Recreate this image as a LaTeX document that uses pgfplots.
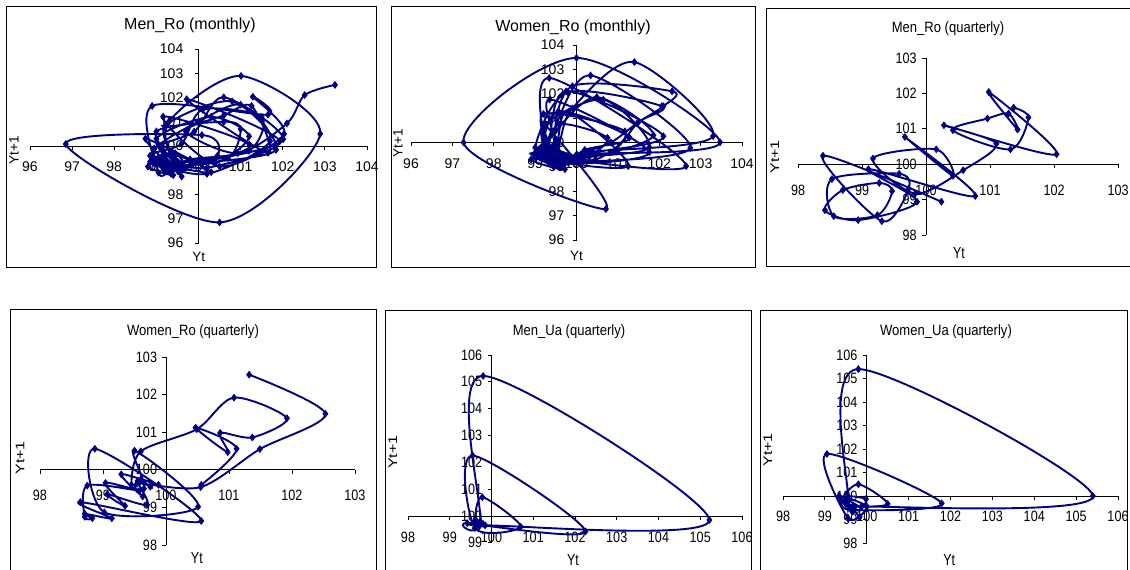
\documentclass[border=0pt]{standalone}
\usepackage{pgfplots}
\pgfplotsset{compat=1.18}
\usepackage{fontspec}
\setmainfont{Liberation Sans}
\definecolor{navy}{RGB}{0,0,128}
\tikzset{
  axl/.style={black, line width=0.9pt},
  tkA/.style={font=\fontsize{14}{16}\selectfont, inner sep=0pt},
  tkB/.style={font=\fontsize{15}{17}\selectfont, inner sep=0pt, xscale=0.84},
  ttlA/.style={font=\fontsize{16}{19}\selectfont, inner sep=0pt},
  ttlB/.style={font=\fontsize{15}{17}\selectfont, inner sep=0pt, xscale=0.87},
  labA/.style={font=\fontsize{13.5}{15}\selectfont, inner sep=0pt},
  labB/.style={font=\fontsize{16}{18}\selectfont, inner sep=0pt, xscale=0.78},
  frm/.style={black, line width=1pt},
}
\pgfplotsset{
  phase/.style={scale only axis, anchor=south west, axis lines=none, clip=false},
  series/.style={navy, line width=1.9pt, smooth, mark=diamond*, mark size=3.3pt, mark options={fill=navy, solid, line width=0.8pt}},
}
% #1 xmin #2 xmax #3 ymin #4 ymax #5 tick style #6 x-label offset #7 y-label gap
\newcommand{\phaseaxes}[7]{%
  \draw[axl] (axis cs:#1,100) -- (axis cs:#2,100);
  \draw[axl] (axis cs:100,#3) -- (axis cs:100,#4);
  \pgfplotsinvokeforeach{#1,...,#2}{%
    \draw[axl] (axis cs:##1,100) -- ++(0pt,-4pt);
    \node[#5, anchor=north, yshift=-#6] at (axis cs:##1,100) {##1};}
  \pgfplotsinvokeforeach{#3,...,#4}{%
    \draw[axl] (axis cs:100,##1) -- ++(-4pt,0pt);
    \node[#5, anchor=east, xshift=-#7] at (axis cs:100,##1) {##1};}
}
\begin{document}
\begin{tikzpicture}
\path[use as bounding box] (0pt,0pt) rectangle (1130pt,570pt);
\fill[white] (0pt,0pt) rectangle (1130pt,570pt);
% frames
\draw[frm] (6.7pt,302pt) rectangle (376.7pt,563.3pt);
\draw[frm] (391.7pt,302pt) rectangle (755.7pt,563.3pt);
\draw[frm] (766pt,303.3pt) rectangle (1132pt,561.7pt);
\draw[frm] (10pt,-5pt) rectangle (376.7pt,260pt);
\draw[frm] (385pt,-5pt) rectangle (751.7pt,259pt);
\draw[frm] (760pt,-5pt) rectangle (1127.7pt,259pt);
% titles
\node[ttlA] at (190pt,545pt) {Men\_Ro (monthly)};
\node[ttlA] at (573pt,543pt) {Women\_Ro (monthly)};
\node[ttlB] at (948pt,541pt) {Men\_Ro (quarterly)};
\node[ttlB] at (193pt,238pt) {Women\_Ro (quarterly)};
\node[ttlB] at (569pt,238pt) {Men\_Ua (quarterly)};
\node[ttlB] at (946pt,238pt) {Women\_Ua (quarterly)};

% ---------- Panel 1: Men_Ro (monthly)
\begin{axis}[phase, at={(30pt,327pt)}, width=337pt, height=194pt,
  xmin=96, xmax=104, ymin=96, ymax=104]
\phaseaxes{96}{104}{96}{104}{tkA}{16pt}{15pt}
\node[labA] at (axis description cs:0.501,-0.072) {Yt};
\node[labA, rotate=90] at (axis description cs:-0.0475,0.479) {Yt+1};
\addplot[series] coordinates {
(103.24,102.52) (102.52,102.1) (102.1,100.93) (100.93,99.7) (99.7,100.6) (100.6,101.26) (101.26,101.65) (101.65,99.72) (99.72,101.93) (101.93,100.2) (100.2,99.1) (99.1,99.4) (99.4,98.8) (98.8,99.15) (99.15,99.6) (99.6,98.74) (98.74,100.3) (100.3,98.92) (98.92,99.3) (99.3,99.05) (99.05,98.9) (98.9,101.65) (101.65,101.29) (101.29,102.03) (102.03,100.5) (100.5,99.16) (99.16,101.21) (101.21,100.05) (100.05,99.3) (99.3,98.95) (98.95,99.5) (99.5,99.2) (99.2,100.8) (100.8,101.84) (101.84,99.84) (99.84,99.25) (99.25,99.0) (99.0,99.45) (99.45,99.7) (99.7,99.1) (99.1,100.0) (100.0,101.0) (101.0,101.7) (101.7,100.2) (100.2,98.85) (98.85,99.35) (99.35,99.6) (99.6,99.2) (99.2,98.95) (98.95,99.9) (99.9,100.6) (100.6,102.01) (102.01,100.28) (100.28,99.4) (99.4,99.1) (99.1,99.5) (99.5,99.0) (99.0,100.3) (100.3,101.2) (101.2,100.4) (100.4,99.3) (99.3,99.65) (99.65,99.05) (99.05,99.35) (99.35,98.85) (98.85,99.6) (99.6,100.1) (100.1,101.5) (101.5,101.2) (101.2,99.8) (99.8,99.45) (99.45,99.15) (99.15,99.55) (99.55,99.0) (99.0,100.6) (100.6,101.0) (101.0,100.7) (100.7,99.5) (99.5,99.3) (99.3,101.01) (101.01,102.89) (102.89,100.5) (100.5,96.85) (96.85,100.08) (100.08,100.45) (100.45,99.6) (99.6,99.3) (99.3,99.05) (99.05,99.5) (99.5,99.2) (99.2,98.95)
};
\end{axis}

% ---------- Panel 2: Women_Ro (monthly)
\begin{axis}[phase, at={(411pt,330pt)}, width=331pt, height=195pt,
  xmin=96, xmax=104, ymin=96, ymax=104]
\phaseaxes{96}{104}{96}{104}{tkA}{16pt}{12pt}
\node[labA] at (axis description cs:0.50,-0.082) {Yt};
\node[labA, rotate=90] at (axis description cs:-0.039,0.497) {Yt+1};
\addplot[series] coordinates {
(99.5,99.2) (99.2,99.6) (99.6,99.0) (99.0,99.4) (99.4,99.1) (99.1,99.7) (99.7,99.3) (99.3,99.45) (99.45,99.05) (99.05,99.55) (99.55,99.9) (99.9,101.4) (101.4,103.3) (103.3,100.26) (100.26,99.6) (99.6,99.2) (99.2,99.45) (99.45,99.0) (99.0,99.79) (99.79,102.06) (102.06,101.49) (101.49,100.83) (100.83,99.6) (99.6,99.3) (99.3,99.34) (99.34,102.65) (102.65,99.03) (99.03,99.5) (99.5,99.8) (99.8,101.25) (101.25,99.03) (99.03,99.4) (99.4,100.34) (100.34,102.75) (102.75,99.78) (99.78,99.2) (99.2,99.56) (99.56,101.28) (101.28,100.2) (100.2,99.7) (99.7,99.1) (99.1,99.5) (99.5,100.49) (100.49,101.86) (101.86,100.3) (100.3,99.4) (99.4,99.65) (99.65,99.35) (99.35,101.76) (101.76,99.6) (99.6,99.2) (99.2,100.65) (100.65,101.76) (101.76,99.8) (99.8,99.45) (99.45,99.9) (99.9,102.31) (102.31,102.1) (102.1,101.49) (101.49,100.83) (100.83,100.0) (100.0,99.5) (99.5,99.2) (99.2,101.17) (101.17,100.46) (100.46,99.3) (99.3,99.6) (99.6,100.75) (100.75,100.19) (100.19,99.4) (99.4,99.72) (99.72,98.9) (98.9,99.3) (99.3,99.75) (99.75,102.1) (102.1,100.26) (100.26,99.55) (99.55,99.25) (99.25,100.71) (100.71,97.27) (97.27,100.0) (100.0,103.47) (103.47,100.01) (100.01,99.5) (99.5,99.1) (99.1,99.4) (99.4,99.8) (99.8,99.2)
};
\end{axis}

% ---------- Panel 3: Men_Ro (quarterly)
\begin{axis}[phase, at={(798pt,335pt)}, width=320pt, height=177pt,
  xmin=98, xmax=103, ymin=98, ymax=103]
\phaseaxes{98}{103}{98}{103}{tkB}{21pt}{11pt}
\node[labB] at (axis description cs:0.503,-0.102) {Yt};
\node[labB, rotate=90] at (axis description cs:-0.072,0.441) {Yt+1};
\addplot[series] coordinates {
(101.37,101.6) (101.6,101.32) (101.32,100.42) (100.42,100.96) (100.96,101.29) (101.29,101.43) (101.43,100.98) (100.98,102.04) (102.04,100.28) (100.28,101.1) (101.1,100.58) (100.58,99.83) (99.83,99.17) (99.17,100.16) (100.16,100.42) (100.42,99.67) (99.67,100.77) (100.77,99.1) (99.1,99.86) (99.86,98.94) (98.94,98.42) (98.42,98.7) (98.7,99.27) (99.27,99.47) (99.47,99.24) (99.24,98.56) (98.56,98.53) (98.53,99.58) (99.58,99.73) (99.73,99.31) (99.31,98.39) (98.39,100.24) (100.24,98.94)
};
\end{axis}

% ---------- Panel 4: Women_Ro (quarterly)
\begin{axis}[phase, at={(40pt,25pt)}, width=315pt, height=188pt,
  xmin=98, xmax=103, ymin=98, ymax=103]
\phaseaxes{98}{103}{98}{103}{tkB}{20pt}{10.5pt}
\node[labB] at (axis description cs:0.498,-0.069) {Yt};
\node[labB, rotate=90] at (axis description cs:-0.063,0.463) {Yt+1};
\addplot[series] coordinates {
(101.32,102.53) (102.53,101.49) (101.49,100.55) (100.55,99.54) (99.54,99.63) (99.63,99.29) (99.29,99.88) (99.88,99.6) (99.6,99.75) (99.75,99.55) (99.55,99.7) (99.7,99.07) (99.07,99.35) (99.35,99.04) (99.04,99.65) (99.65,99.5) (99.5,100.51) (100.51,99.02) (99.02,98.87) (98.87,100.56) (100.56,98.64) (98.64,99.14) (99.14,98.71) (98.71,98.83) (98.83,98.71) (98.71,98.75) (98.75,99.58) (99.58,99.45) (99.45,99.6) (99.6,100.49) (100.49,101.08) (101.08,101.92) (101.92,101.37) (101.37,100.86) (100.86,100.98) (100.98,100.47) (100.47,101.12) (101.12,100.56) (100.56,99.6)
};
\end{axis}

% ---------- Panel 5: Men_Ua (quarterly)
\begin{axis}[phase, at={(408pt,27.2pt)}, width=334pt, height=187.8pt,
  xmin=98, xmax=106, ymin=99, ymax=106]
\phaseaxes{98}{106}{99}{106}{tkB}{16pt}{11pt}
\node[labB] at (axis description cs:0.494,-0.092) {Yt};
\node[labB, rotate=90] at (axis description cs:-0.045,0.483) {Yt+1};
\addplot[series] coordinates {
(99.7,99.6) (99.6,99.78) (99.78,100.7) (100.7,99.6) (99.6,99.55) (99.55,102.25) (102.25,99.42) (99.42,99.73) (99.73,99.8) (99.8,105.22) (105.22,99.85) (99.85,99.65) (99.65,99.8) (99.8,99.7)
};
\end{axis}

% ---------- Panel 6: Women_Ua (quarterly)
\begin{axis}[phase, at={(783pt,27pt)}, width=335pt, height=188pt,
  xmin=98, xmax=106, ymin=98, ymax=106]
\phaseaxes{98}{106}{98}{106}{tkB}{15pt}{11pt}
\node[labB] at (axis description cs:0.496,-0.09) {Yt};
\node[labB, rotate=90] at (axis description cs:-0.045,0.495) {Yt+1};
\addplot[series] coordinates {
(99.7,99.5) (99.5,99.65) (99.65,99.34) (99.34,100.0) (100.0,99.55) (99.55,99.05) (99.05,101.79) (101.79,99.69) (99.69,99.4) (99.4,99.8) (99.8,100.5) (100.5,99.66) (99.66,99.56) (99.56,99.8) (99.8,105.4) (105.4,100.0) (100.0,99.55) (99.55,99.98) (99.98,99.87) (99.87,99.53) (99.53,99.83) (99.83,99.1)
};
\end{axis}
\end{tikzpicture}
\end{document}
